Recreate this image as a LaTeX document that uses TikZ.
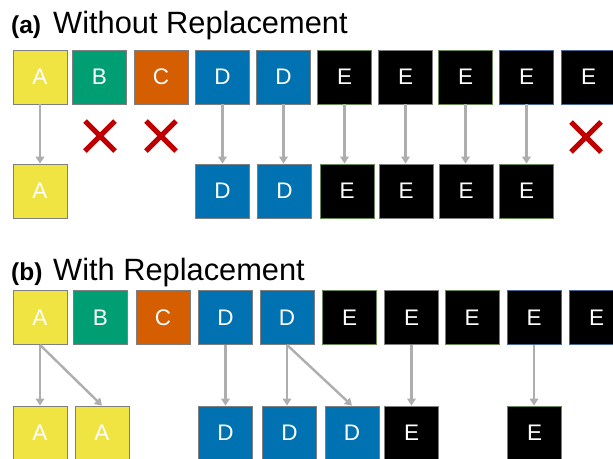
\documentclass[tikz,border=0pt]{standalone}
\usepackage{fontspec}
\setmainfont{Liberation Sans}
\usetikzlibrary{arrows.meta}
\definecolor{cyel}{HTML}{F0E442}
\definecolor{cgrn}{HTML}{009E73}
\definecolor{corg}{HTML}{D55E00}
\definecolor{cblu}{HTML}{0072B2}
\definecolor{cred}{HTML}{C00000}
\definecolor{carr}{HTML}{AEAEAE}
\definecolor{bgry}{HTML}{7F7F7F}
\definecolor{bgrn}{HTML}{6A8A55}
\definecolor{bblu}{HTML}{4A6A9A}
\tikzset{
  box/.style={minimum size=54pt, inner sep=0pt, draw=bgry, line width=0.8pt, text=white, font=\fontsize{22.5}{22.5}\selectfont},
  ya/.style={box, fill=cyel},
  gb/.style={box, fill=cgrn},
  oc/.style={box, fill=corg},
  bd/.style={box, fill=cblu},
  ke/.style={box, fill=black},
  keg/.style={box, fill=black, draw=bgrn},
  keb/.style={box, fill=black, draw=bblu},
  arr/.style={draw=carr, line width=2.4pt, -{Triangle[width=8.5pt,length=7pt]}},
  cross/.style={draw=cred, line width=5pt},
  ttl/.style={anchor=base west, inner sep=0pt, font=\fontsize{30.8}{31}\selectfont},
  lbl/.style={anchor=base west, inner sep=0pt, font=\bfseries\fontsize{24.5}{25}\selectfont},
}
\begin{document}
\begin{tikzpicture}[x=1pt,y=-1pt]
\useasboundingbox (0,0) rectangle (613,458);
\clip (0,0) rectangle (613,458);
% ---------- (a) ----------
\node[lbl] (la) at (11,33) {(a)};
\node[ttl] (ta) at (53,33) {Without Replacement};
\node[ya] (aA) at (40,77) {A};
\node[gb] (aB) at (99.5,77) {B};
\node[oc] (aC) at (161,77) {C};
\node[bd] (aD1) at (222.5,77) {D};
\node[bd] (aD2) at (283.5,77) {D};
\node[keg] (aE1) at (344.5,77) {E};
\node[ke] (aE2) at (405.5,77) {E};
\node[keg] (aE3) at (465.5,77) {E};
\node[keb] (aE4) at (526.5,77) {E};
\node[keb] (aE5) at (588.5,77) {E};
\node[ya] (bA) at (40,191) {A};
\node[bd] (bD1) at (222.5,191) {D};
\node[bd] (bD2) at (284.5,191) {D};
\node[keg] (bE1) at (347,191) {E};
\node[ke] (bE2) at (406,191) {E};
\node[ke] (bE3) at (466,191) {E};
\node[keg] (bE4) at (526.5,191) {E};
\draw[arr] (aA.south) -- (bA.north);
\draw[arr] (aD1.south) -- (aD1.south |- bD1.north);
\draw[arr] (aD2.south) -- (aD2.south |- bD2.north);
\draw[arr] (aE1.south) -- (aE1.south |- bE1.north);
\draw[arr] (aE2.south) -- (aE2.south |- bE2.north);
\draw[arr] (aE3.south) -- (aE3.south |- bE3.north);
\draw[arr] (aE4.south) -- (aE4.south |- bE4.north);
\coordinate (xB) at (100,136);
\coordinate (xC) at (161,136);
\coordinate (xE) at (586,137);
\foreach \c in {xB,xC,xE}{
  \draw[cross] ([shift={(-15,-15)}]\c) -- ([shift={(15,15)}]\c);
  \draw[cross] ([shift={(-15,15)}]\c) -- ([shift={(15,-15)}]\c);
}
% ---------- (b) ----------
\node[lbl] (lb) at (11,280) {(b)};
\node[ttl] (tb) at (53,280) {With Replacement};
\node[ya] (cA) at (40,317.5) {A};
\node[gb] (cB) at (100.5,317.5) {B};
\node[oc] (cC) at (163,317.5) {C};
\node[bd] (cD1) at (225.5,317.5) {D};
\node[bd] (cD2) at (287,317.5) {D};
\node[keg] (cE1) at (349.5,317.5) {E};
\node[ke] (cE2) at (411.5,317.5) {E};
\node[keg] (cE3) at (472,317.5) {E};
\node[keb] (cE4) at (534,317.5) {E};
\node[keb] (cE5) at (596.5,317.5) {E};
\node[ya] (dA1) at (40,433) {A};
\node[ya] (dA2) at (102,433) {A};
\node[bd] (dD1) at (225.5,433) {D};
\node[bd] (dD2) at (289.5,433) {D};
\node[bd] (dD3) at (352,433) {D};
\node[ke] (dE1) at (411.5,433) {E};
\node[keg] (dE2) at (534.5,433) {E};
\draw[arr] (cA.south) -- (dA1.north);
\draw[arr] (cA.south) -- (dA2.north);
\draw[arr] (cD1.south) -- (cD1.south |- dD1.north);
\draw[arr] (cD2.south) -- (cD2.south |- dD2.north);
\draw[arr] (cD2.south) -- (dD3.north);
\draw[arr] (cE2.south) -- (cE2.south |- dE1.north);
\draw[arr] (cE4.south) -- (cE4.south |- dE2.north);
\end{tikzpicture}
\end{document}
